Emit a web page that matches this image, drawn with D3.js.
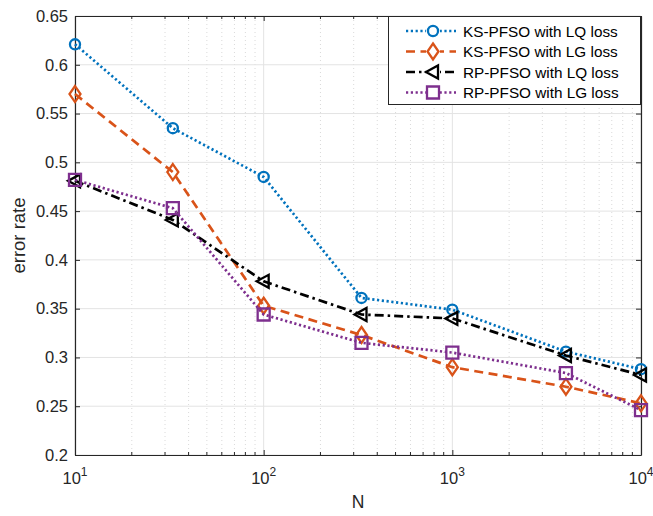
<!DOCTYPE html>
<html>
<head>
<meta charset="utf-8">
<script src="https://cdn.jsdelivr.net/npm/d3@7"></script>
<style>
  html, body { margin: 0; padding: 0; background: #fff; }
  svg { display: block; font-family: "Liberation Sans", Arial, sans-serif; }
</style>
</head>
<body>
<svg id="chart" width="653" height="516"></svg>
<script>
// Sample sizes and error rates for each method
const sampleSizes = [10, 33, 100, 330, 1000, 4000, 10000];
const ksLQ = [0.621, 0.535, 0.485, 0.361, 0.349, 0.306, 0.288];
const ksLG = [0.570, 0.490, 0.353, 0.323, 0.290, 0.270, 0.253];
const rpLQ = [0.481, 0.441, 0.378, 0.344, 0.340, 0.302, 0.282];
const rpLG = [0.482, 0.453, 0.344, 0.315, 0.305, 0.284, 0.246];
const seriesNames = ["KS-PFSO with LQ loss", "KS-PFSO with LG loss", "RP-PFSO with LQ loss", "RP-PFSO with LG loss"];
const yTickValues = [0.2, 0.25, 0.3, 0.35, 0.4, 0.45, 0.5, 0.55, 0.6, 0.65];
const yTickLabels = ["0.2", "0.25", "0.3", "0.35", "0.4", "0.45", "0.5", "0.55", "0.6", "0.65"];
const xTickValues = [10, 100, 1000, 10000];
const xTickExponents = ["1", "2", "3", "4"];

const seriesStyles = [
  { color: "#0072BD", dash: "2.2,2.6", marker: "circle" },
  { color: "#D95319", dash: "9,5.5", marker: "diamond" },
  { color: "#000000", dash: "9,4,2.5,4", marker: "triangleLeft" },
  { color: "#7E2F8E", dash: "2.2,2.6", marker: "square" }
];
const seriesValues = [ksLQ, ksLG, rpLQ, rpLG];

const svg = d3.select("#chart");
const m = { left: 75, top: 16, right: 641, bottom: 455 };
const x = d3.scaleLog().domain([10, 10000]).range([m.left, m.right]);
const y = d3.scaleLinear().domain([0.2, 0.65]).range([m.bottom, m.top]);
const axisColor = "#262626";
const tickFont = "16.5px";

// Minor x grid (dotted)
const minorX = [];
for (let d = 10; d < 10000; d *= 10) for (let k = 2; k <= 9; k++) minorX.push(d * k);
svg.append("g").selectAll("line").data(minorX).join("line")
  .attr("x1", d => x(d)).attr("x2", d => x(d))
  .attr("y1", m.top).attr("y2", m.bottom)
  .attr("stroke", "#d0d0d0").attr("stroke-width", 0.8).attr("stroke-dasharray", "1,3");

// Major grid
svg.append("g").selectAll("line").data(xTickValues).join("line")
  .attr("x1", d => x(d)).attr("x2", d => x(d))
  .attr("y1", m.top).attr("y2", m.bottom)
  .attr("stroke", "#e3e3e3").attr("stroke-width", 1);
svg.append("g").selectAll("line").data(yTickValues).join("line")
  .attr("x1", m.left).attr("x2", m.right)
  .attr("y1", d => y(d)).attr("y2", d => y(d))
  .attr("stroke", "#e3e3e3").attr("stroke-width", 1);

// Axes (ticks inward, boxed)
const tickLen = 5;
const bottomAxis = d3.axisBottom(x).tickValues(xTickValues).tickSizeInner(-tickLen).tickSizeOuter(0).tickFormat("");
const topAxis = d3.axisTop(x).tickValues(xTickValues).tickSizeInner(-tickLen).tickSizeOuter(0).tickFormat("");
const leftAxis = d3.axisLeft(y).tickValues(yTickValues).tickSizeInner(-tickLen).tickSizeOuter(0)
  .tickFormat((d, i) => yTickLabels[i]).tickPadding(7);
const rightAxis = d3.axisRight(y).tickValues(yTickValues).tickSizeInner(-tickLen).tickSizeOuter(0).tickFormat("");

function styleAxis(g) {
  g.select(".domain").attr("stroke", axisColor).attr("stroke-width", 1.2);
  g.selectAll(".tick line").attr("stroke", axisColor).attr("stroke-width", 1);
  g.selectAll(".tick text").attr("fill", axisColor).style("font-size", tickFont)
    .style("font-family", "'Liberation Sans', Arial, sans-serif");
}
svg.append("g").attr("transform", `translate(0,${m.bottom})`).call(bottomAxis).call(styleAxis);
svg.append("g").attr("transform", `translate(0,${m.top})`).call(topAxis).call(styleAxis);
svg.append("g").attr("transform", `translate(${m.left},0)`).call(leftAxis).call(styleAxis);
svg.append("g").attr("transform", `translate(${m.right},0)`).call(rightAxis).call(styleAxis);

// Minor x ticks
const minorLen = 3;
[m.bottom, m.top].forEach((yy, i) => {
  svg.append("g").selectAll("line").data(minorX).join("line")
    .attr("x1", d => x(d)).attr("x2", d => x(d))
    .attr("y1", yy).attr("y2", i === 0 ? yy - minorLen : yy + minorLen)
    .attr("stroke", axisColor).attr("stroke-width", 1);
});

// x tick labels with superscript exponents
const xLabels = svg.append("g").selectAll("text").data(xTickValues).join("text")
  .attr("x", d => x(d)).attr("y", 483.5)
  .attr("text-anchor", "middle").attr("fill", axisColor).style("font-size", tickFont);
xLabels.append("tspan").text("10");
xLabels.append("tspan").attr("dy", -8).style("font-size", "12px").text((d, i) => xTickExponents[i]);

// Axis titles
svg.append("text").attr("x", (m.left + m.right) / 2).attr("y", 508)
  .attr("text-anchor", "middle").attr("fill", axisColor).style("font-size", "17.5px").text("N");
svg.append("text").attr("transform", `translate(25,${(m.top + m.bottom) / 2}) rotate(-90)`)
  .attr("text-anchor", "middle").attr("fill", axisColor).style("font-size", "18.5px").text("error rate");

// Marker drawing
function drawMarker(g, type, color) {
  const s = g.append("path").attr("fill", "none").attr("stroke", color).attr("stroke-width", 2.3);
  if (type === "circle") s.attr("d", d3.symbol(d3.symbolCircle, 80)());
  else if (type === "diamond") s.attr("d", "M0,-8L5.5,0L0,8L-5.5,0Z");
  else if (type === "triangleLeft") s.attr("d", "M-7,0L5,-6.5L5,6.5Z");
  else if (type === "square") s.attr("d", "M-6,-6H6V6H-6Z");
}

const line = d3.line().x(d => x(d[0])).y(d => y(d[1]));
const plot = svg.append("g");
seriesValues.forEach((vals, si) => {
  const st = seriesStyles[si];
  const pts = sampleSizes.map((n, i) => [n, vals[i]]);
  plot.append("path").datum(pts).attr("d", line)
    .attr("fill", "none").attr("stroke", st.color).attr("stroke-width", 2.7)
    .attr("stroke-dasharray", st.dash);
  pts.forEach(p => {
    const g = plot.append("g").attr("transform", `translate(${x(p[0])},${y(p[1])})`);
    drawMarker(g, st.marker, st.color);
  });
});

// Legend
const legend = svg.append("g");
legend.append("rect").attr("x", 388.5).attr("y", 16.5).attr("width", 252).attr("height", 88)
  .attr("fill", "#fff").attr("stroke", axisColor).attr("stroke-width", 1);
seriesNames.forEach((name, i) => {
  const st = seriesStyles[i];
  const ly = 31 + i * 20.5;
  legend.append("line").attr("x1", 406).attr("x2", 456).attr("y1", ly).attr("y2", ly)
    .attr("stroke", st.color).attr("stroke-width", 2.7).attr("stroke-dasharray", st.dash);
  const g = legend.append("g").attr("transform", `translate(433,${ly})`);
  g.append("rect").attr("x", -7).attr("y", -7).attr("width", 14).attr("height", 14).attr("fill", "#fff");
  drawMarker(g, st.marker, st.color);
  legend.append("text").attr("x", 463).attr("y", ly + 5.5).attr("fill", "#000")
    .style("font-size", "15.3px").text(name);
});
</script>
</body>
</html>
